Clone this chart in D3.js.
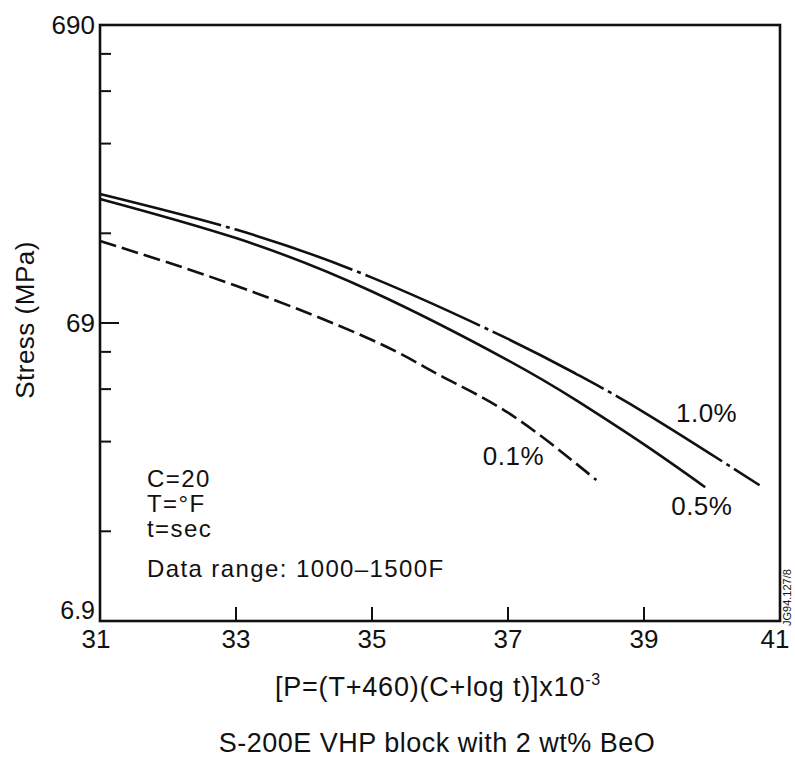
<!DOCTYPE html>
<html>
<head>
<meta charset="utf-8">
<script src="https://cdn.jsdelivr.net/npm/d3@7"></script>
<style>
  body { margin: 0; background: #fff; }
  text { font-family: "Liberation Sans", Arial, sans-serif; fill: #111; }
</style>
</head>
<body>
<svg id="chart"></svg>
<script>
// Chart values
const xTicks = [31, 33, 35, 37, 39, 41];
const yMajor = [6.9, 69, 690];
const yMinor = [13.8, 27.6, 41.4, 55.2, 138, 276, 414, 552];

const p10 = [31, 33, 35, 37, 38, 39, 40.7];      // 1.0% curve
const s10 = [187, 142, 98, 61, 46.6, 34.6, 19.7];
const p05 = [31, 33, 35, 37, 38, 39, 39.9];      // 0.5% curve
const s05 = [180, 133, 88, 51.7, 38, 27, 19.4];
const p01 = [31, 33, 35, 36, 37, 38, 38.3];      // 0.1% curve
const s01 = [130, 92, 60.5, 46, 34.5, 23.3, 20.5];

const curveNames = ["1.0%", "0.5%", "0.1%"];
const labelAt = [[39.47, 32.1], [39.4, 15.6], [36.63, 23.0]];
const notes = ["C=20", "T=\u00b0F", "t=sec", "Data range: 1000\u20131500F"];

const width = 795, height = 769;
const m = { left: 100, top: 25, right: 15, bottom: 148 };
const w = width - m.left - m.right, h = height - m.top - m.bottom;

const svg = d3.select("#chart").attr("width", width).attr("height", height);
const g = svg.append("g").attr("transform", `translate(${m.left},${m.top})`);

const x = d3.scaleLinear().domain([31, 41]).range([0, w]);
const y = d3.scaleLog().domain([6.9, 690]).range([h, 0]);

// curves
const series = [
  { name: curveNames[0], pts: d3.zip(p10, s10), dash: "125,5,4,5" },
  { name: curveNames[1], pts: d3.zip(p05, s05), dash: null },
  { name: curveNames[2], pts: d3.zip(p01, s01), dash: "17,6" }
];
const line = d3.line().x(d => x(d[0])).y(d => y(d[1])).curve(d3.curveNatural);

g.selectAll("path.curve")
    .data(series)
    .enter().append("path")
    .attr("class", "curve")
    .attr("d", d => line(d.pts))
    .attr("fill", "none")
    .attr("stroke", "#111")
    .attr("stroke-width", 2.6)
    .attr("stroke-dasharray", d => d.dash);

g.selectAll("text.clabel")
    .data(labelAt)
    .enter().append("text")
    .attr("class", "clabel")
    .attr("x", d => x(d[0]))
    .attr("y", d => y(d[1]))
    .attr("font-size", 26)
    .attr("letter-spacing", 0.5)
    .text((d, i) => curveNames[i]);

// frame
g.append("rect")
    .attr("width", w).attr("height", h)
    .attr("fill", "none").attr("stroke", "#111").attr("stroke-width", 2.6);

// x ticks (inside, upward) and labels
g.selectAll("line.xt")
    .data(xTicks.slice(1, -1))
    .enter().append("line")
    .attr("x1", d => x(d)).attr("x2", d => x(d))
    .attr("y1", h).attr("y2", h - 14)
    .attr("stroke", "#111").attr("stroke-width", 2);
g.selectAll("text.xl")
    .data(xTicks)
    .enter().append("text")
    .attr("x", (d, i) => x(d) + (i === 0 ? -4 : i === xTicks.length - 1 ? -5 : 0))
    .attr("y", h + 27)
    .attr("text-anchor", "middle")
    .attr("font-size", 26)
    .text(d => d);

// y ticks
g.selectAll("line.ymaj")
    .data([69])
    .enter().append("line")
    .attr("x1", 0).attr("x2", 19)
    .attr("y1", d => y(d)).attr("y2", d => y(d))
    .attr("stroke", "#111").attr("stroke-width", 2);
g.selectAll("line.ymin")
    .data(yMinor)
    .enter().append("line")
    .attr("x1", 0).attr("x2", 11)
    .attr("y1", d => y(d)).attr("y2", d => y(d))
    .attr("stroke", "#111").attr("stroke-width", 2);
g.selectAll("text.yl")
    .data(yMajor)
    .enter().append("text")
    .attr("x", -5)
    .attr("y", d => y(d) + (d === 6.9 ? -2 : 9))
    .attr("text-anchor", "end")
    .attr("font-size", d => d === 6.9 ? 25 : 26)
    .text(d => d);

// notes block
g.selectAll("text.note")
    .data(notes)
    .enter().append("text")
    .attr("x", 47)
    .attr("y", (d, i) => 462 + i * 25 + (i === 3 ? 15 : 0))
    .attr("font-size", 24)
    .attr("letter-spacing", 1.4)
    .text(d => d);

// axis titles
svg.append("text")
    .attr("transform", "translate(34,320) rotate(-90)")
    .attr("text-anchor", "middle")
    .attr("font-size", 26)
    .attr("letter-spacing", 0.5)
    .text("Stress (MPa)");

const xt = svg.append("text")
    .attr("x", 438).attr("y", 696)
    .attr("text-anchor", "middle")
    .attr("font-size", 27)
    .attr("letter-spacing", 0.8);
xt.append("tspan").text("[P=(T+460)(C+log t)]x10");
xt.append("tspan").attr("dy", -11).attr("font-size", 16).text("-3");

svg.append("text")
    .attr("x", 437).attr("y", 752)
    .attr("text-anchor", "middle")
    .attr("font-size", 27)
    .attr("letter-spacing", 0.5)
    .text("S-200E VHP block with 2 wt% BeO");

svg.append("text")
    .attr("transform", "translate(791,626) rotate(-90)")
    .attr("font-size", 11)
    .text("JG94.127/8");
</script>
</body>
</html>
